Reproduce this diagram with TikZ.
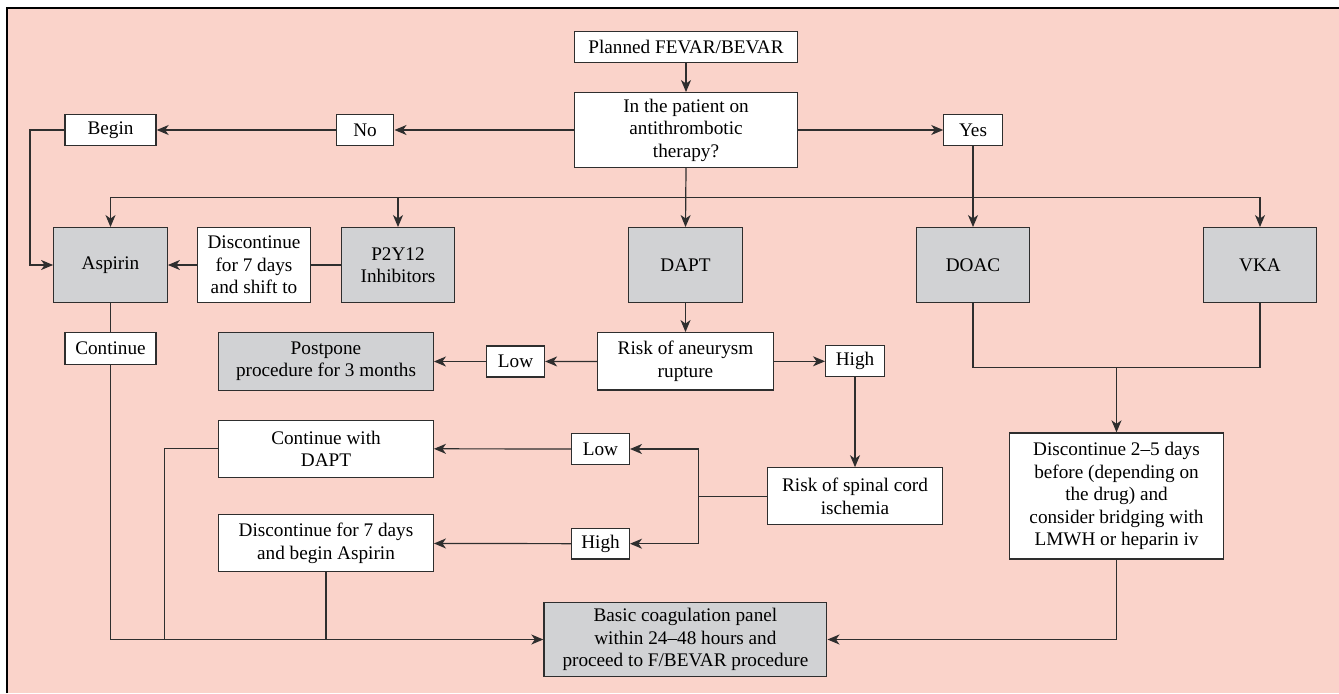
\documentclass[tikz,border=0pt]{standalone}
\usepackage{fontspec}
\setmainfont{Liberation Serif}
\usepackage{tikz}
\usetikzlibrary{positioning,arrows.meta}

\definecolor{pinkbg}{HTML}{FAD3CA}
\definecolor{boxgray}{HTML}{D1D2D4}
\definecolor{linegray}{HTML}{2E2E2E}

\tikzset{
  box/.style={draw=linegray, line width=1.2bp, fill=white, inner sep=0pt, align=center,
    font=\rmfamily\fontsize{19.3}{22.5}\selectfont},
  drugbox/.style={box, fill=boxgray},
  line/.style={draw=linegray, line width=1.2bp},
  arr/.style={line, -{Stealth[length=12bp,width=10bp,inset=3.5bp]}}
}

\begin{document}
\begin{tikzpicture}[x=1bp,y=-1bp]

\useasboundingbox (0,0) rectangle (1339,693);
\fill[pinkbg] (7,8) rectangle (1339,693);
\draw[line width=2.2bp] (7,693) -- (7,8) -- (1339,8);

% top of the chart
\node [box, minimum width=224, minimum height=30.5] (plan) at (686,47) {Planned FEVAR/BEVAR};
\node [box, minimum width=224, minimum height=75] (quest) at (686,130) {In the patient on\\antithrombotic\\therapy?};
\node [box, minimum width=58, minimum height=31] (no) at (365,130) {No};
\node [box, minimum width=91.5, minimum height=31] (begin) at (110.5,130) {Begin};
\node [box, minimum width=58.5, minimum height=31] (yes) at (973,130) {Yes};

% drug row
\node [drugbox, minimum width=114, minimum height=75] (aspirin) at (110.5,265) {Aspirin};
\node [box, minimum width=114, minimum height=75] (shift) at (254,265) {Discontinue\\for 7 days\\and shift to};
\node [drugbox, minimum width=113.5, minimum height=75] (ptwo) at (398,265) {P2Y12\\Inhibitors};
\node [drugbox, minimum width=114, minimum height=75] (dapt) at (685.5,265) {DAPT};
\node [drugbox, minimum width=114, minimum height=75] (doac) at (973,265) {DOAC};
\node [drugbox, minimum width=114, minimum height=75] (vka) at (1260,265) {VKA};

% DAPT branch
\node [box, minimum width=91.5, minimum height=31.5] (cont) at (110.5,348.5) {Continue};
\node [drugbox, minimum width=215.5, minimum height=57.5] (postpone) at (326,361.5) {Postpone\\procedure for 3 months};
\node [box, minimum width=58, minimum height=31] (lowA) at (515.6,361.5) {Low};
\node [box, minimum width=176, minimum height=57.5] (rupture) at (685.5,361.3) {Risk of aneurysm\\rupture};
\node [box, minimum width=59, minimum height=31] (highA) at (855,361.3) {High};
\node [box, minimum width=176, minimum height=57] (spinal) at (855,496.2) {Risk of spinal cord\\ischemia};
\node [box, minimum width=58, minimum height=30.6] (lowB) at (600.5,449) {Low};
\node [box, minimum width=58, minimum height=30.6] (highB) at (600.5,543.7) {High};
\node [box, minimum width=215.5, minimum height=57.3] (contdapt) at (326,448.7) {Continue with\\DAPT};
\node [box, minimum width=215.5, minimum height=57.3] (discasp) at (326,543.3) {Discontinue for 7 days\\and begin Aspirin};

% anticoagulants and end
\node [box, minimum width=215, minimum height=126.6] (stopdrug) at (1116.5,496) {Discontinue 2--5 days\\before (depending on\\the drug) and\\consider bridging with\\LMWH or heparin iv};
\node [drugbox, minimum width=284, minimum height=75] (panel) at (685.4,639.5) {Basic coagulation panel\\within 24--48 hours and\\proceed to F/BEVAR procedure};

\coordinate (bus) at (686,197.3);
\coordinate (merge) at (1116.5,367.3);

\draw[arr] (plan) -- (quest);
\draw[arr] (quest) -- (no);
\draw[arr] (no) -- (begin);
\draw[arr] (begin.west) -- ++(-34.3,0) |- (aspirin.west);
\draw[arr] (quest) -- (yes);
\draw[arr] (yes) -- (doac);

\draw[arr] (quest.south) -- (dapt.north);
\draw[arr] (bus) -| (aspirin.north);
\draw[arr] (bus) -| (ptwo.north);
\draw[arr] (bus) -| (vka.north);

\draw[line] (ptwo) -- (shift);
\draw[arr] (shift) -- (aspirin);
\draw[line] (aspirin) -- (cont);
\draw[arr] (cont.south) |- (panel.west);

\draw[arr] (dapt) -- (rupture);
\draw[arr] (rupture) -- (lowA);
\draw[arr] (lowA) -- (postpone);
\draw[arr] (rupture) -- (highA);
\draw[arr] (highA) -- (spinal);
\draw[arr] (spinal.west) -- ++(-68.6,0) |- (lowB.east);
\draw[arr] (spinal.west) -- ++(-68.6,0) |- (highB.east);
\draw[arr] (lowB) -- (contdapt);
\draw[arr] (highB) -- (discasp);
\draw[line] (contdapt.west) -- ++(-53.3,0) -- ++(0,190.6);
\draw[line] (discasp.south) -- (discasp.south |- panel.west);

\draw[line] (doac.south) |- (merge) -| (vka.south);
\draw[arr] (merge) -- (stopdrug.north);
\draw[arr] (stopdrug.south) |- (panel.east);

\end{tikzpicture}
\end{document}
